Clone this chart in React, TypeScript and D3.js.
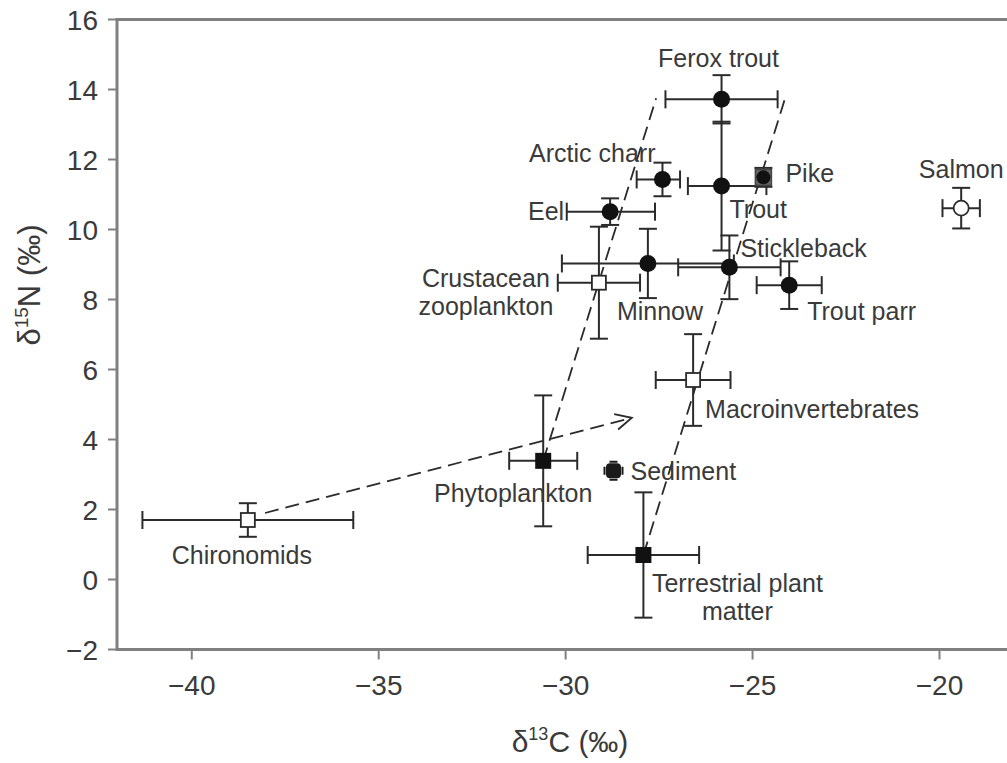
import React from "react";
import * as d3 from "d3";

// ---- data ----
const names = [
  "Ferox trout", "Arctic charr", "Trout", "Pike", "Eel", "Stickleback", "Minnow",
  "Trout parr", "Crustacean zooplankton", "Macroinvertebrates", "Phytoplankton",
  "Sediment", "Terrestrial plant matter", "Chironomids", "Salmon",
];
const d13C = [-25.83, -27.41, -25.83, -24.71, -28.81, -25.62, -27.8, -24.02, -29.11, -26.59, -30.6, -28.72, -27.92, -38.5, -19.42];
const d15N = [13.72, 11.43, 11.24, 11.49, 10.51, 8.92, 9.03, 8.41, 8.48, 5.7, 3.39, 3.11, 0.7, 1.7, 10.61];
const xErrLow = [1.5, 0.69, 0.9, 0.2, 1.16, 1.37, 2.3, 0.87, 1.1, 1.0, 0.91, 0.1, 1.49, 2.82, 0.5];
const xErrHigh = [1.5, 0.47, 1.2, 0.2, 1.2, 1.37, 2.3, 0.87, 1.1, 1.0, 0.91, 0.1, 1.49, 2.82, 0.5];
const yErr = [0.69, 0.48, 1.84, 0.27, 0.38, 0.91, 0.99, 0.68, 1.6, 1.31, 1.87, 0.1, 1.79, 0.48, 0.58];
const markerKind = [
  "filledCircle", "filledCircle", "filledCircle", "pike", "filledCircle", "filledCircle", "filledCircle",
  "filledCircle", "openSquare", "openSquare", "filledSquare", "sediment", "filledSquare", "openSquare", "openCircle",
];
const labelLines = [
  ["Ferox trout"], ["Arctic charr"], ["Trout"], ["Pike"], ["Eel"], ["Stickleback"], ["Minnow"],
  ["Trout parr"], ["Crustacean", "zooplankton"], ["Macroinvertebrates"], ["Phytoplankton"],
  ["Sediment"], ["Terrestrial plant", "matter"], ["Chironomids"], ["Salmon"],
];
// dashed guide lines [x1, y1, x2, y2] in data units
const guideLeft = [-30.6, 3.39, -27.58, 13.75];
const guideRight = [-27.92, 0.7, -24.13, 13.75];
const arrowLine = [-38.04, 1.9, -28.23, 4.62];

const xTicks = [-40, -35, -30, -25, -20];
const yTicks = [-2, 0, 2, 4, 6, 8, 10, 12, 14, 16];

// ---- layout (pixel offsets of labels relative to their points) ----
const labelLayout = [
  { dx: -3, dy: -32, anchor: "middle" },
  { dx: -7, dy: -17, anchor: "end" },
  { dx: 8, dy: 32, anchor: "start" },
  { dx: 22, dy: 5, anchor: "start" },
  { dx: -46, dy: 8, anchor: "end" },
  { dx: 11, dy: -10, anchor: "start" },
  { dx: -31, dy: 57, anchor: "start" },
  { dx: 18, dy: 35, anchor: "start" },
  { dx: -113, dy: 4, anchor: "middle" },
  { dx: 12, dy: 38, anchor: "start" },
  { dx: -30, dy: 41, anchor: "middle" },
  { dx: 17, dy: 9, anchor: "start" },
  { dx: 94, dy: 37, anchor: "middle" },
  { dx: -6, dy: 44, anchor: "middle" },
  { dx: 0, dy: -30, anchor: "middle" },
];

const W = 1007;
const H = 763;
const FONT = "'Liberation Sans', Arial, Helvetica, sans-serif";
const AXIS = "#808080";
const INK = "#2b2b2b";
const TXT = "#3a3a3a";

export default function App() {
  const x = d3.scaleLinear().domain([-42, -20]).range([117, 939.5]);
  const y = d3.scaleLinear().domain([-2, 16]).range([649.5, 19.5]);
  const xRight = x(-15);
  const cap = 9;

  const line = d3.line<[number, number]>().x((d) => x(d[0])).y((d) => y(d[1]));

  const ax1 = x(arrowLine[0]), ay1 = y(arrowLine[1]);
  const ax2 = x(arrowLine[2]), ay2 = y(arrowLine[3]);
  const ang = Math.atan2(ay2 - ay1, ax2 - ax1);
  const headLen = 18;
  const headAng = (26 * Math.PI) / 180;
  const h1 = [ax2 - headLen * Math.cos(ang - headAng), ay2 - headLen * Math.sin(ang - headAng)];
  const h2 = [ax2 - headLen * Math.cos(ang + headAng), ay2 - headLen * Math.sin(ang + headAng)];

  const renderMarker = (kind: string, cx: number, cy: number) => {
    switch (kind) {
      case "filledCircle":
        return <circle cx={cx} cy={cy} r={8.5} fill="#111" />;
      case "openCircle":
        return <circle cx={cx} cy={cy} r={7.5} fill="#fff" stroke={INK} strokeWidth={1.8} />;
      case "openSquare":
        return <rect x={cx - 7} y={cy - 7} width={14} height={14} fill="#fff" stroke={INK} strokeWidth={1.8} />;
      case "filledSquare":
        return <rect x={cx - 8} y={cy - 8} width={16} height={16} fill="#111" />;
      case "pike":
        return (
          <g>
            <rect x={cx - 8} y={cy - 8} width={16} height={16} fill="#666" stroke="#444" strokeWidth={1.5} />
            <circle cx={cx} cy={cy} r={7} fill="#111" />
          </g>
        );
      case "sediment":
        return (
          <g>
            <rect x={cx - 7.5} y={cy - 7.5} width={15} height={15} rx={4} fill="#1a1a1a" />
            <path d={`M${cx - 9},${cy - 4}V${cy + 4}M${cx + 9},${cy - 4}V${cy + 4}M${cx - 4},${cy - 9}H${cx + 4}M${cx - 4},${cy + 9}H${cx + 4}`} stroke="#1a1a1a" strokeWidth={2} />
          </g>
        );
      default:
        return null;
    }
  };

  return (
    <svg width={W} height={H} style={{ position: "absolute", left: 0, top: 0, background: "#fff" }} fontFamily={FONT}>
      <rect x={0} y={0} width={W} height={H} fill="#fff" />
      {/* frame */}
      <path d={`M${xRight},${y(16)}H${x(-42)}V${y(-2)}H${xRight}`} fill="none" stroke={AXIS} strokeWidth={3} />
      {/* y ticks */}
      {yTicks.map((t) => (
        <g key={"yt" + t}>
          <line x1={x(-42) - 9} x2={x(-42)} y1={y(t)} y2={y(t)} stroke={AXIS} strokeWidth={2} />
          <text x={x(-42) - 19} y={y(t) + 10} textAnchor="end" fontSize={28} fill={TXT}>
            {t < 0 ? "\u2212" + Math.abs(t) : String(t)}
          </text>
        </g>
      ))}
      {/* x ticks */}
      {xTicks.map((t) => (
        <g key={"xt" + t}>
          <line x1={x(t)} x2={x(t)} y1={y(-2)} y2={y(-2) + 10} stroke={AXIS} strokeWidth={2} />
          <text x={x(t)} y={695} textAnchor="middle" fontSize={28} fill={TXT}>
            {"\u2212" + Math.abs(t)}
          </text>
        </g>
      ))}
      {/* axis titles */}
      <text x={570} y={752} textAnchor="middle" fontSize={30} fill={TXT}>
        δ<tspan fontSize={18} dy={-12}>13</tspan>
        <tspan dy={12}>C (‰)</tspan>
      </text>
      <text transform={`translate(40,285) rotate(-90)`} textAnchor="middle" fontSize={31} fill={TXT}>
        δ<tspan fontSize={19} dy={-12}>15</tspan>
        <tspan dy={12}>N (‰)</tspan>
      </text>
      {/* dashed guides */}
      <path d={line([[guideLeft[0], guideLeft[1]], [guideLeft[2], guideLeft[3]]]) || ""} stroke={INK} strokeWidth={1.8} strokeDasharray="14,7" fill="none" />
      <path d={line([[guideRight[0], guideRight[1]], [guideRight[2], guideRight[3]]]) || ""} stroke={INK} strokeWidth={1.8} strokeDasharray="14,7" fill="none" />
      <path d={`M${ax1},${ay1}L${ax2},${ay2}`} stroke={INK} strokeWidth={1.8} strokeDasharray="14,7" fill="none" />
      <path d={`M${h1[0]},${h1[1]}L${ax2},${ay2}L${h2[0]},${h2[1]}`} stroke={INK} strokeWidth={1.8} fill="none" />
      {/* error bars */}
      {names.map((n, i) => {
        const cx = x(d13C[i]);
        const cy = y(d15N[i]);
        const xl = x(d13C[i] - xErrLow[i]);
        const xh = x(d13C[i] + xErrHigh[i]);
        const yt = y(d15N[i] + yErr[i]);
        const yb = y(d15N[i] - yErr[i]);
        if (markerKind[i] === "sediment") return null;
        return (
          <g key={"eb" + i} stroke={INK} strokeWidth={2} fill="none">
            <line x1={xl} x2={xh} y1={cy} y2={cy} />
            <line x1={cx} x2={cx} y1={yt} y2={yb} />
            <line x1={xl} x2={xl} y1={cy - cap} y2={cy + cap} />
            <line x1={xh} x2={xh} y1={cy - cap} y2={cy + cap} />
            <line x1={cx - cap} x2={cx + cap} y1={yt} y2={yt} />
            <line x1={cx - cap} x2={cx + cap} y1={yb} y2={yb} />
          </g>
        );
      })}
      {/* markers */}
      {names.map((n, i) => (
        <g key={"m" + i}>{renderMarker(markerKind[i], x(d13C[i]), y(d15N[i]))}</g>
      ))}
      {/* labels */}
      {names.map((n, i) => {
        const L = labelLayout[i];
        const lx = x(d13C[i]) + L.dx;
        const ly = y(d15N[i]) + L.dy;
        return (
          <text key={"l" + i} x={lx} y={ly} textAnchor={L.anchor} fontSize={25} fill={TXT}>
            {labelLines[i].map((s, k) => (
              <tspan key={k} x={lx} dy={k === 0 ? 0 : 28}>
                {s}
              </tspan>
            ))}
          </text>
        );
      })}
    </svg>
  );
}
